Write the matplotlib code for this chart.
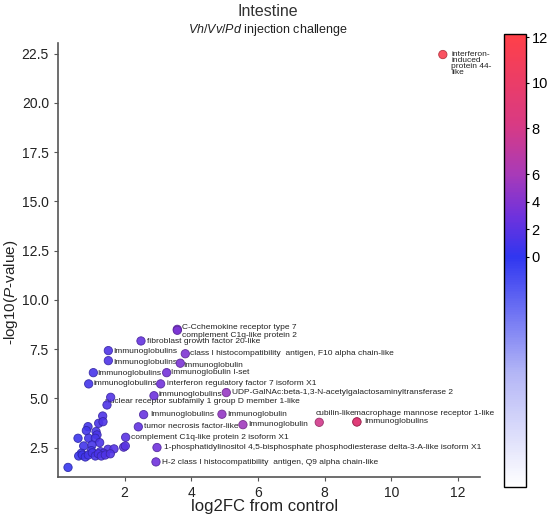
import numpy as np
import matplotlib
matplotlib.use("Agg")
import matplotlib.pyplot as plt
from matplotlib.colors import LinearSegmentedColormap, FuncNorm

plt.rcParams['font.family'] = ['Liberation Sans', 'DejaVu Sans']
plt.rcParams['mathtext.fontset'] = 'custom'
plt.rcParams['mathtext.it'] = 'Liberation Sans:italic'
plt.rcParams['mathtext.rm'] = 'Liberation Sans'

# labelled genes: log2FC, -log10(p)
labels = [
    "interferon-\ninduced\nprotein 44-\nlike",
    "C-Cchemokine receptor type 7",
    "complement C1q-like protein 2",
    "fibroblast growth factor 20-like",
    "Immunoglobulins",
    "class I histocompatibility  antigen, F10 alpha chain-like",
    "Immunoglobulins",
    "Immunoglobulin",
    "Immunoglobulins",
    "Immunoglobulin I-set",
    "immunoglobulins",
    "interferon regulatory factor 7 isoform X1",
    "immunoglobulins",
    "UDP-GalNAc:beta-1,3-N-acetylgalactosaminyltransferase 2",
    "nuclear receptor subfamily 1 group D member 1-like",
    "Immunoglobulins",
    "Immunoglobulin",
    "tumor necrosis factor-like",
    "Immunoglobulin",
    "complement C1q-like protein 2 isoform X1",
    "1-phosphatidylinositol 4,5-bisphosphate phosphodiesterase delta-3-A-like isoform X1",
    "H-2 class I histocompatibility  antigen, Q9 alpha chain-like",
    "cubilin-like",
    "macrophage mannose receptor 1-like",
    "Immunoglobulins",
]
lab_fc = [11.55, 3.58, 3.58, 2.49, 1.51, 3.82, 1.51, 3.67, 1.06, 3.26, 0.92, 3.08,
          2.88, 5.05, 1.47, 2.57, 4.92, 2.41, 5.55, 2.03, 2.97, 2.94, 7.84, 8.97, 8.97]
lab_p = [22.45, 8.50, 8.45, 7.91, 7.42, 7.26, 6.91, 6.78, 6.30, 6.30, 5.73, 5.73,
         5.13, 5.29, 4.66, 4.17, 4.19, 3.55, 3.66, 3.02, 2.50, 1.77, 3.78, 3.80, 3.80]

# unlabelled genes
other_fc = [1.34, 1.22, 1.35, 0.90, 0.85, 1.14, 1.17, 0.60, 0.92, 1.12, 1.25, 0.77,
            1.02, 1.50, 1.68, 1.97, 2.02, 1.00, 1.27, 1.37, 0.70, 0.62, 0.73, 0.82,
            0.91, 1.03, 1.12, 1.21, 1.30, 1.42, 1.57, 0.30, 1.58]
other_p = [4.10, 3.73, 3.81, 3.56, 3.36, 3.31, 3.14, 2.97, 2.97, 2.97, 2.75, 2.58,
           2.63, 2.41, 2.43, 2.52, 2.58, 2.34, 2.29, 2.21, 2.21, 2.07, 2.12, 2.02,
           2.12, 2.23, 2.07, 2.18, 2.07, 2.12, 2.18, 1.49, 5.05]

cbar_ticks = [0, 2, 4, 6, 8, 10, 12]

# label offsets in points (text left edge relative to the dot)
offsets = [(6, 2.8), (3.4, 1.4), (3.4, -3.8), (4.3, -0.7), (3.8, -0.7), (3.6, 0),
           (3.8, -1.2), (2.4, -1.4), (3.1, -0.4), (3.2, 0), (3.2, 0.5), (4.6, 0),
           (3.3, 0.7), (4.1, 0), (-1.5, 2.2), (4.8, 0), (4, 0), (4.3, 0.5), (4, 0),
           (4.1, 0), (4.8, 0), (4.3, -0.2), (-2.9, 6.5), (-2.4, 6.3), (5.3, 0)]

# colour scale: white -> blue at 0 -> purple -> red, non-linear spacing on the bar
vals_k = [-10, 0, 6, 12.13]
frac_k = [0, 0.508, 0.691, 1.0]
norm = FuncNorm((lambda v: np.interp(v, vals_k, frac_k),
                 lambda f: np.interp(f, frac_k, vals_k)), vmin=-10, vmax=12.13)
cmap = LinearSegmentedColormap.from_list(
    "bwr2", [(0, "#ffffff"), (0.25, "#b4b6f6"), (0.508, "#3036f0"),
             (0.6, "#7032dc"), (0.691, "#a83ab8"), (0.8, "#d83a84"),
             (1.0, "#ff4048")])

fig = plt.figure(figsize=(5.5, 5.17), dpi=100)
ax = fig.add_axes([0.1055, 0.078, 0.7675, 0.839])
cax = fig.add_axes([0.9164, 0.058, 0.04, 0.876])

all_fc = np.array(other_fc + lab_fc)
all_p = np.array(other_p + lab_p)
cols = cmap(norm(all_fc))
edge = cols.copy()
edge[:, :3] *= 0.7
ax.scatter(all_fc, all_p, s=36, c=cols, edgecolors=edge, linewidths=0.6,
           alpha=0.9, zorder=3)

for t, x, y, off in zip(labels, lab_fc, lab_p, offsets):
    va = 'top' if '\n' in t else 'center'
    ax.annotate(t, (x, y), xytext=off, textcoords='offset points',
                fontsize=6.0, color='#222222', va=va, ha='left',
                linespacing=0.85, zorder=2)

ax.set_xlim(0, 12.67)
ax.set_ylim(1.02, 23.04)
ax.set_xticks([2, 4, 6, 8, 10, 12])
ax.set_yticks([2.5, 5, 7.5, 10, 12.5, 15, 17.5, 20, 22.5])
ax.yaxis.set_major_formatter(matplotlib.ticker.FormatStrFormatter('%.1f'))
for s in ['top', 'right']:
    ax.spines[s].set_visible(False)
for s in ['left', 'bottom']:
    ax.spines[s].set_color('#555555')
    ax.spines[s].set_linewidth(1.2)
ax.tick_params(labelsize=10, length=3, color='#555555', labelcolor='#222222')
ax.set_xlabel("log2FC from control", fontsize=12, color='#222222')
ax.xaxis.set_label_coords(0.49, -0.052)
ax.set_ylabel(r"-log10($\it{P}$-value)", fontsize=11, color='#222222')
ax.yaxis.set_label_coords(-0.09, 0.426)

sm = matplotlib.cm.ScalarMappable(norm=norm, cmap=cmap)
cb = fig.colorbar(sm, cax=cax, ticks=cbar_ticks)
cb.outline.set_linewidth(1.0)
cb.ax.tick_params(labelsize=10.5, length=2.5, pad=1.5)

fig.text(0.487, 0.978, "Intestine", ha='center', va='center', fontsize=11.5,
         color='#333333')
fig.text(0.487, 0.942, r"$\it{Vh/Vv/Pd}$ injection challenge", ha='center',
         va='center', fontsize=9, color='#222222')

fig.savefig("out.png", dpi=100)
